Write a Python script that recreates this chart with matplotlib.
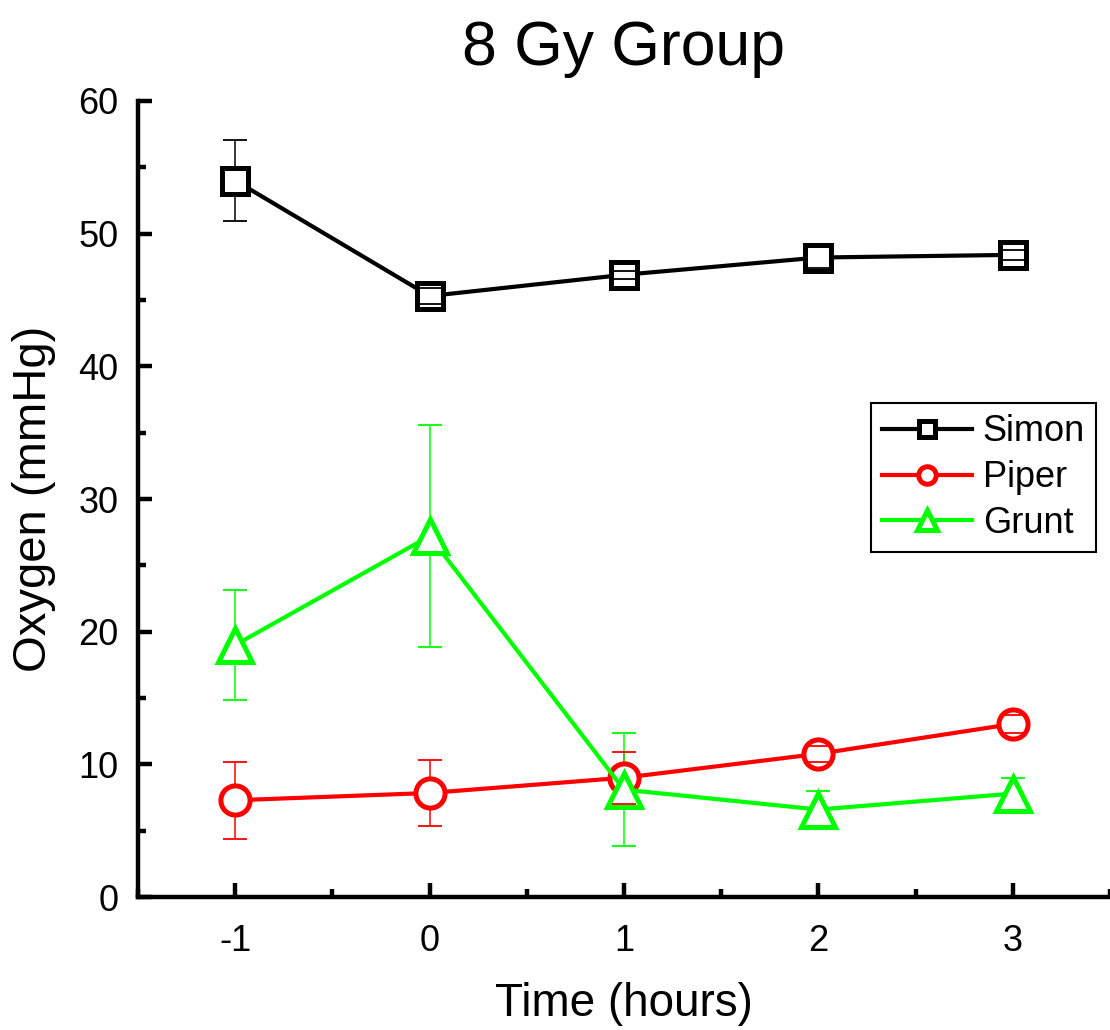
import numpy as np
import matplotlib
matplotlib.use('Agg')
import matplotlib.pyplot as plt
from matplotlib.ticker import MultipleLocator

plt.rcParams['font.family'] = ['Liberation Sans', 'DejaVu Sans']

# Oxygen readings (mmHg) per subject, mean and error
horas = [-1, 0, 1, 2, 3]

simon = [54.0, 45.3, 46.9, 48.2, 48.4]
simon_err = [3.05, 0.6, 0.3, 0.8, 0.4]

piper = [7.3, 7.85, 9.0, 10.8, 13.05]
piper_err = [2.9, 2.5, 1.95, 0.6, 0.7]

grunt = [19.0, 27.2, 8.1, 6.6, 7.8]
grunt_err = [4.15, 8.35, 4.25, 1.4, 1.2]

series = [
    ('Simon', simon, simon_err, 'black', 's', 19),
    ('Piper', piper, piper_err, '#ff0000', 'o', 21),
    ('Grunt', grunt, grunt_err, '#00ff00', '^', 24),
]

fig = plt.figure(figsize=(11.1, 10.3), dpi=100)
ax = fig.add_axes([0.1243, 0.129, 0.8757, 0.773])

for nombre, valores, err, color, marca, tam in series:
    ax.errorbar(horas, valores, yerr=err, fmt='none', ecolor=color,
                elinewidth=1.1, capsize=0, zorder=2)
    ax.plot(horas, valores, color=color, lw=3, marker=marca, ms=tam,
            mfc='white', mec=color, mew=3.6, label=nombre, zorder=3)
    # caps on top of the markers
    arriba = np.array(valores) + np.array(err)
    abajo = np.array(valores) - np.array(err)
    ax.plot(horas, arriba, ls='none', marker='_', ms=17, mew=1.3,
            color=color, zorder=4)
    ax.plot(horas, abajo, ls='none', marker='_', ms=17, mew=1.3,
            color=color, zorder=4)

ax.set_xlim(-1.5, 3.5)
ax.set_ylim(0, 60)
ax.set_xticks(horas)
ax.set_xticklabels(['-1', '0', '1', '2', '3'])
ax.set_yticks(range(0, 61, 10))
ax.xaxis.set_minor_locator(MultipleLocator(0.5))
ax.yaxis.set_minor_locator(MultipleLocator(5))

for lado in ['top', 'right']:
    ax.spines[lado].set_visible(False)
for lado in ['left', 'bottom']:
    ax.spines[lado].set_linewidth(3.2)

ax.tick_params(which='major', direction='in', length=10, width=3.2,
               labelsize=26)
ax.tick_params(axis='x', which='major', pad=19)
ax.tick_params(axis='y', which='major', pad=14)
ax.tick_params(which='minor', direction='in', length=6, width=3.2)

ax.set_xlabel('Time (hours)', fontsize=33, labelpad=17)
ax.set_ylabel('Oxygen (mmHg)', fontsize=34, labelpad=16)
ax.set_title('8 Gy Group', fontsize=45, pad=26)

leg = ax.legend(loc='upper left', bbox_to_anchor=(0.754, 0.62),
                fontsize=26, markerscale=0.6, handlelength=2.5,
                handletextpad=0.3, labelspacing=0.3, borderpad=0.3,
                borderaxespad=0, fancybox=False, framealpha=1,
                edgecolor='black')
leg.get_frame().set_linewidth(1.5)

fig.savefig('out.png', dpi=100)
